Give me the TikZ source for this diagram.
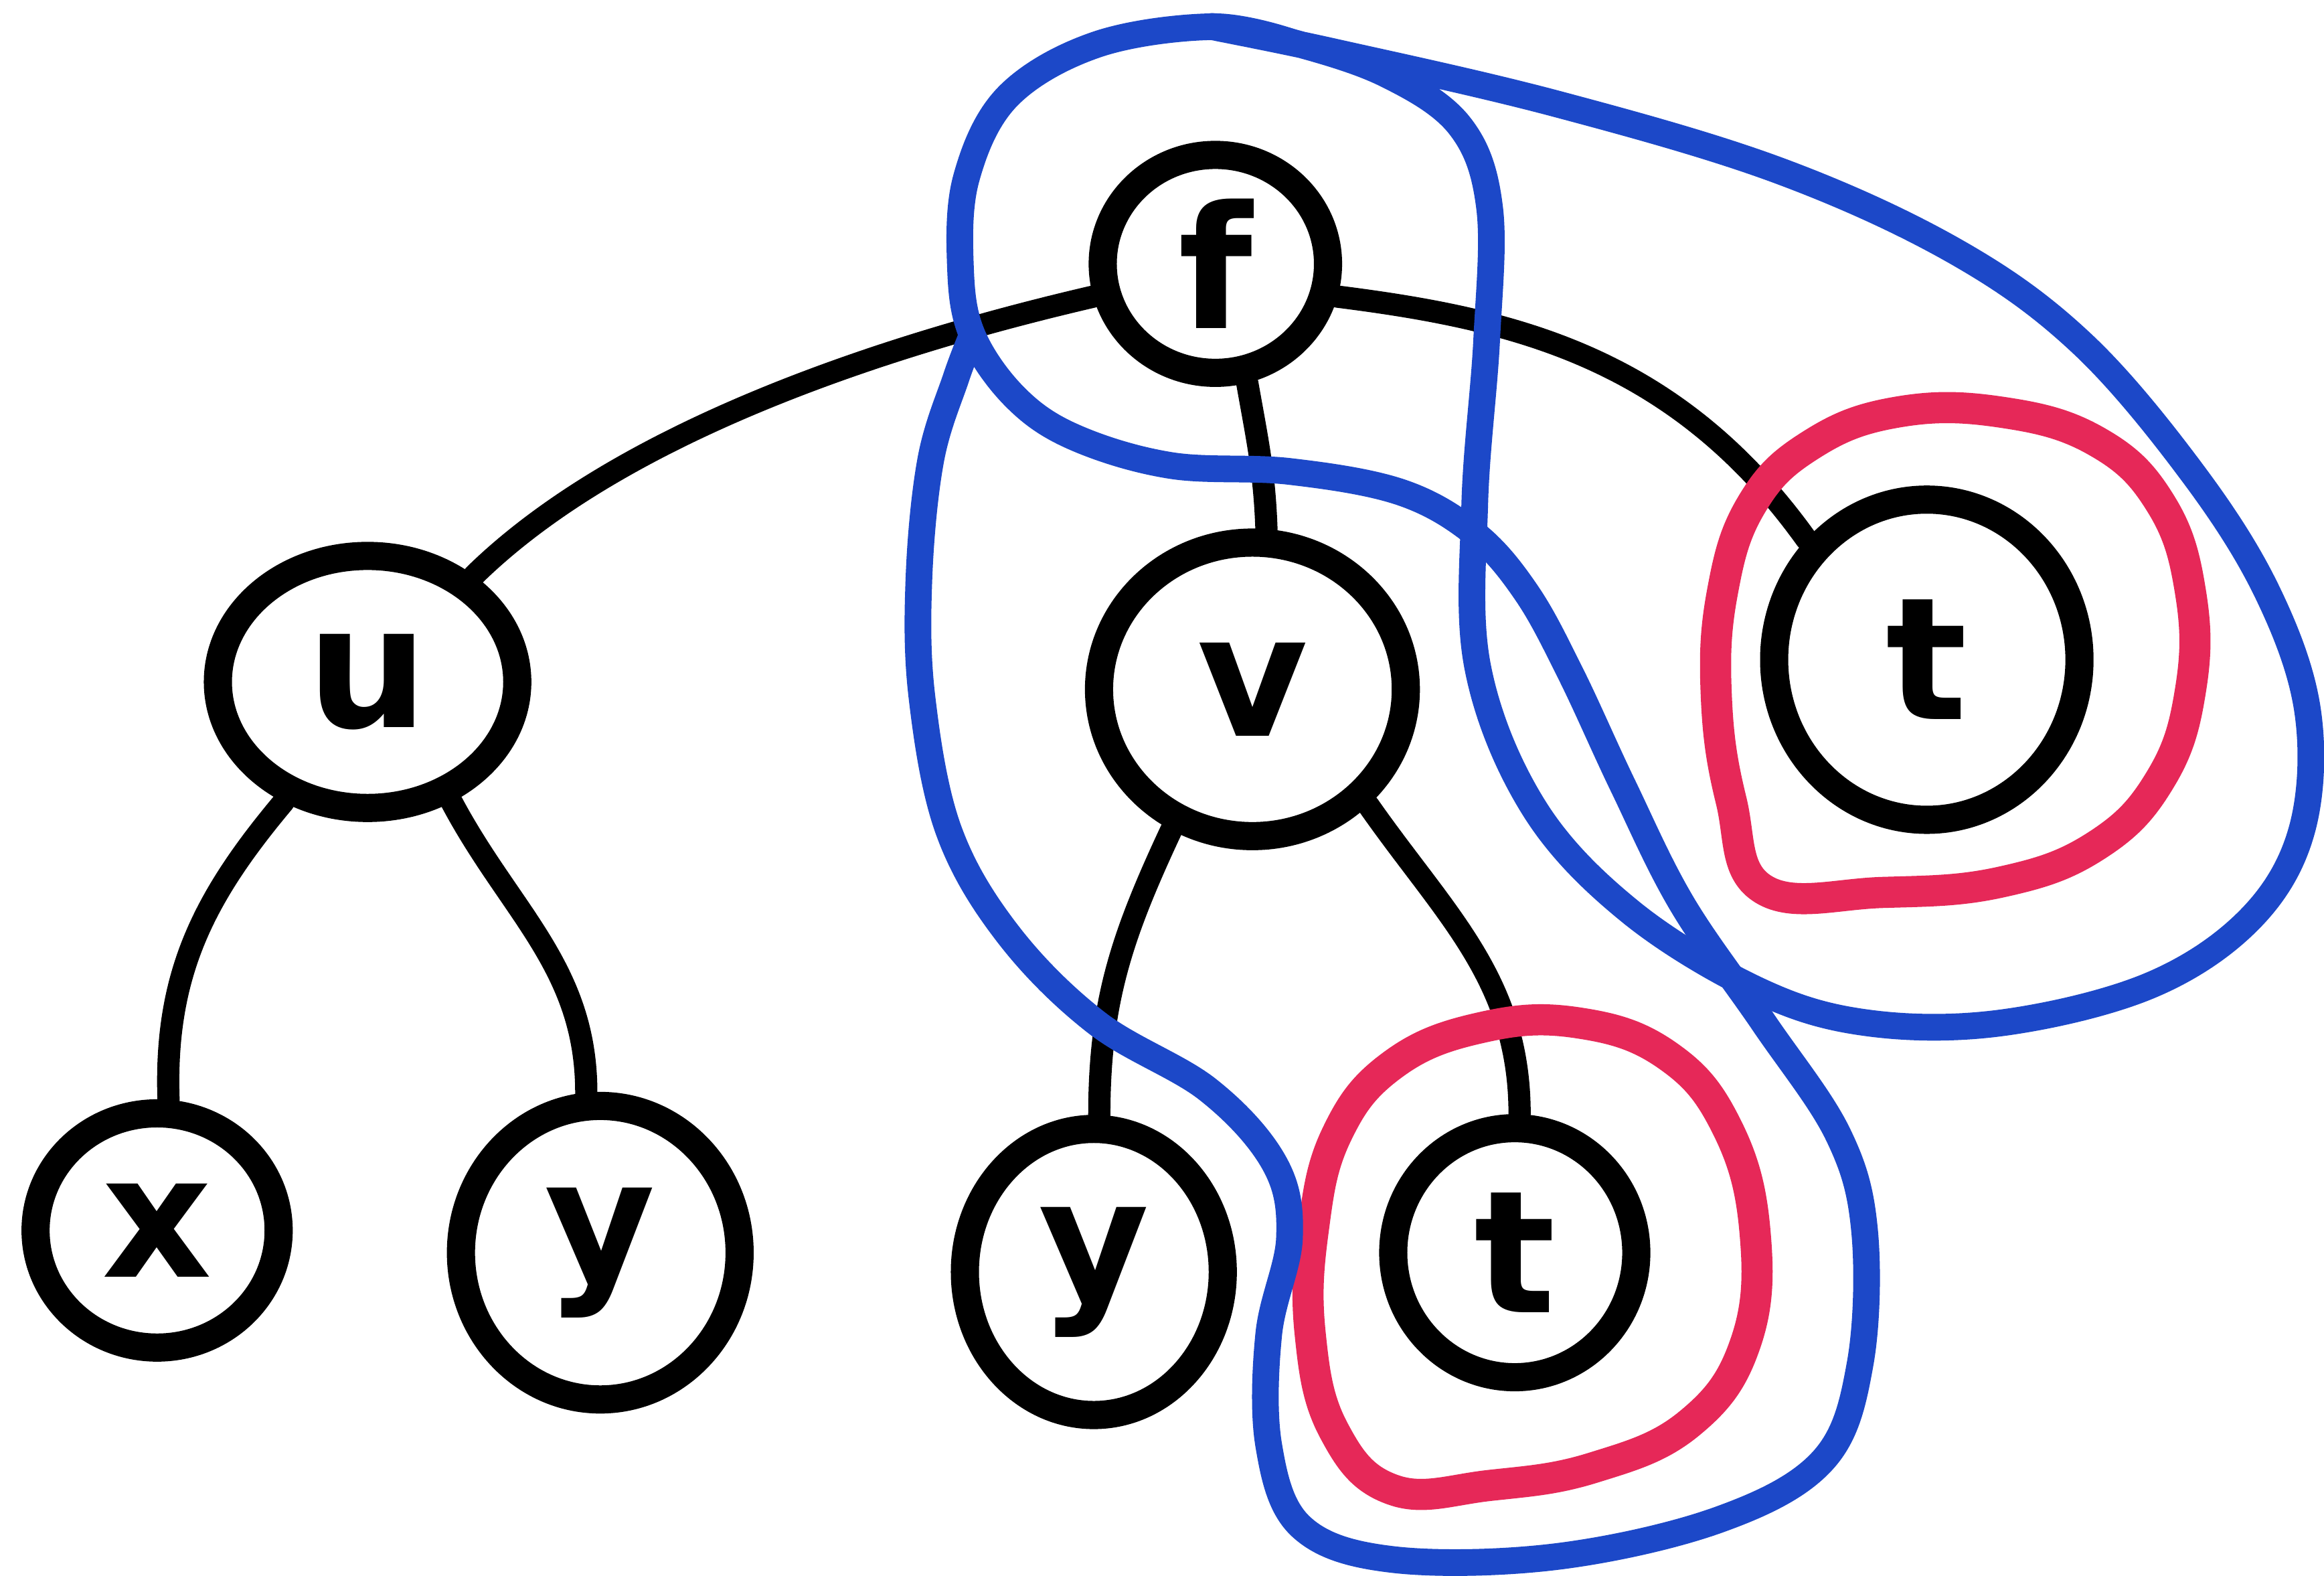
\documentclass[tikz,border=0pt]{standalone}
\usepackage{fontspec}
\setmainfont{DejaVu Sans}
\usetikzlibrary{shapes.geometric}
\definecolor{inkblue}{RGB}{28,72,200}
\definecolor{inkred}{RGB}{230,40,88}
\begin{document}
\begin{tikzpicture}[x=1pt,y=-1pt,
  vert/.style={draw=black,line width=19pt,ellipse,inner sep=0pt,font=\fontsize{115}{115}\selectfont\bfseries},
  edge/.style={draw=black,line width=15pt,line cap=round},
  blueloop/.style={draw=inkblue,line width=18pt,line cap=round,line join=round},
  redloop/.style={draw=inkred,line width=21pt,line cap=round,line join=round}]
\useasboundingbox[fill=white] (0,0) rectangle (1568,1063);
% nodes
\node[vert,minimum width=152pt,minimum height=147pt] (f) at (820,178) {f};
\node[vert,minimum width=202pt,minimum height=170pt] (u) at (248,460) {u};
\node[vert,minimum width=207pt,minimum height=198pt] (v) at (845,465) {v};
\node[vert,minimum width=206pt,minimum height=216pt] (t1) at (1300,445) {t};
\node[vert,minimum width=164pt,minimum height=158pt] (x) at (106,830) {x};
\node[vert,minimum width=188pt,minimum height=198pt] (y1) at (405,845) {y};
\node[vert,minimum width=174pt,minimum height=193pt] (y2) at (738,858) {y};
\node[vert,minimum width=164pt,minimum height=168pt] (t2) at (1022,845) {t};
% edges
\draw[edge] (f.195) .. controls (600,232) and (420,290) .. (u.45);
\draw[edge] (f.285) to[out=-80,in=92] (v.85);
\draw[edge] (f.-15) .. controls (1020,215) and (1130,240) .. (t1.135);
\draw[edge] (u.235) to[out=230,in=92] (x.85);
\draw[edge] (u.-55) to[out=-62,in=90] (y1.95);
\draw[edge] (v.240) to[out=245,in=90] (y2.88);
\draw[edge] (v.-45) to[out=-55,in=90] (t2.88);
% red loops
\draw[redloop] plot[smooth cycle,tension=0.7] coordinates {
 (1190,600) (1168,540) (1158,470) (1162,400) (1182,340) (1222,300) (1280,278)
 (1350,278) (1415,298) (1458,340) (1478,400) (1478,465) (1458,525) (1415,570)
 (1350,595) (1270,602)};
\draw[redloop] plot[smooth cycle,tension=0.7] coordinates {
 (940,1005) (900,965) (884,900) (886,830) (902,765) (940,718) (1000,693)
 (1065,690) (1125,712) (1165,760) (1184,830) (1178,905) (1140,960) (1075,990)
 (1005,1002)};
% blue loops
\draw[blueloop] plot[smooth cycle,tension=0.6] coordinates {
 (818,18) (900,35) (1050,70) (1200,115) (1320,170) (1405,232) (1480,320)
 (1530,400) (1557,480) (1553,560) (1518,620) (1450,665) (1350,690) (1260,690)
 (1186,668) (1100,615) (1035,545) (997,450) (995,340) (1003,230) (1005,140)
 (985,85) (935,50) (870,28)};
\draw[blueloop] plot[smooth,tension=0.6] coordinates {
 (870,28) (818,18) (740,30) (680,65) (652,120) (648,180) (656,226) (685,268)
 (725,295) (790,314) (870,318) (945,332) (995,360) (1030,400) (1060,455)
 (1095,530) (1135,610) (1190,690) (1240,765) (1258,830) (1255,920) (1230,985)
 (1160,1025) (1050,1050) (940,1052) (878,1030) (856,975) (856,900) (870,835)
 (860,785) (815,735) (740,690) (680,630) (640,560) (622,470) (620,390)
 (628,310) (645,255) (656,226)};
\end{tikzpicture}
\end{document}
